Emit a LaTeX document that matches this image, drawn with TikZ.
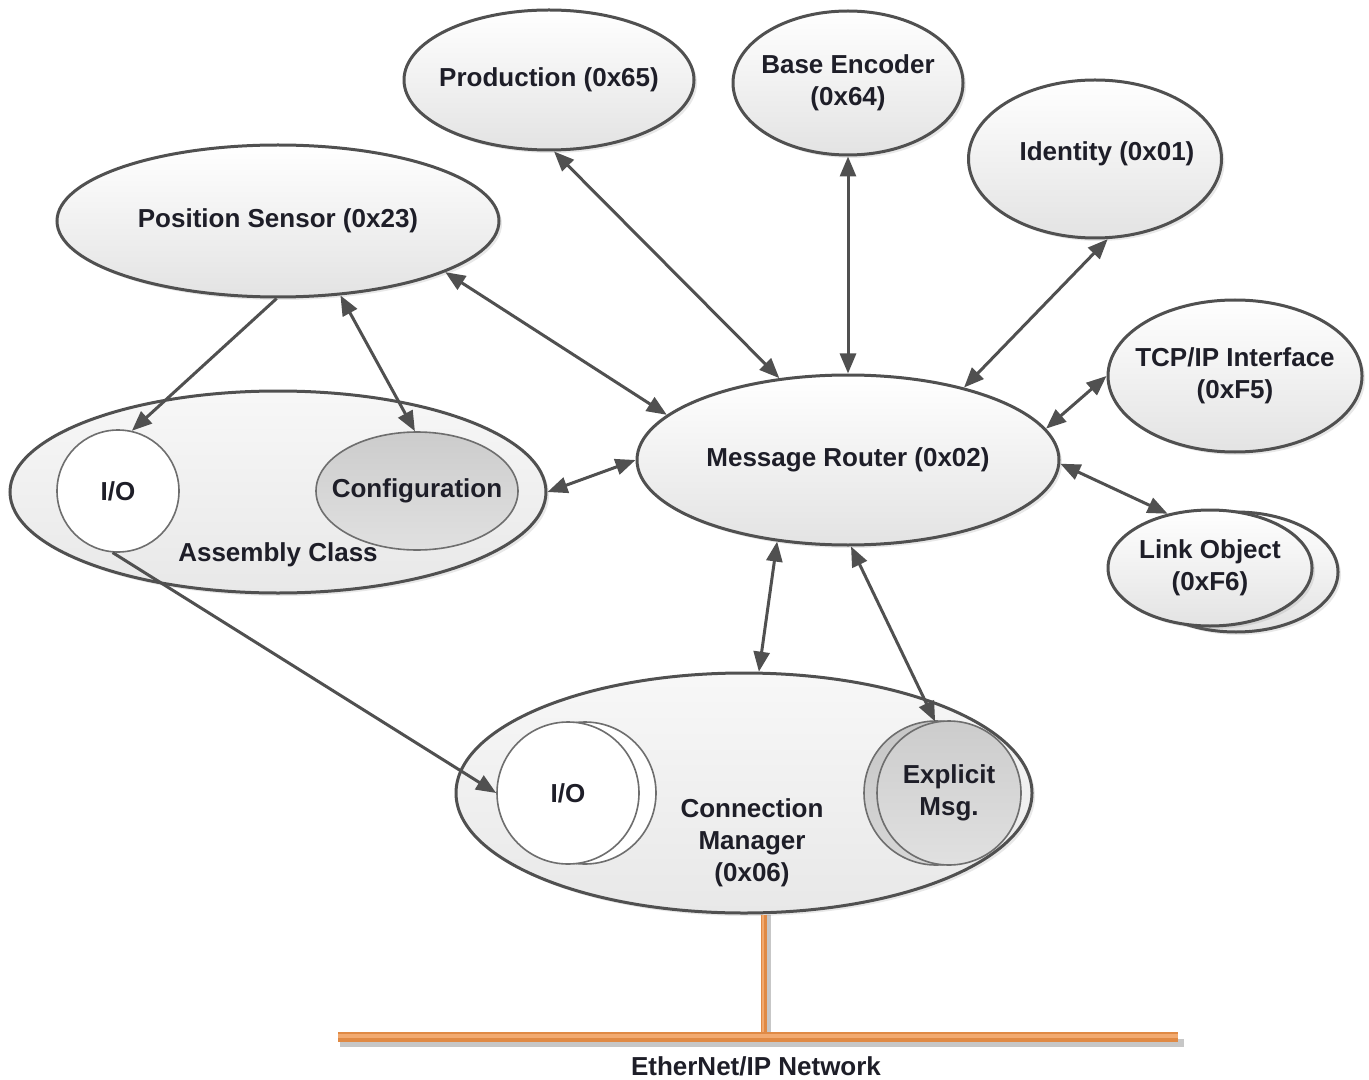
\documentclass[tikz,border=0pt]{standalone}
\usepackage{fontspec}
\setmainfont{Liberation Sans}
\usetikzlibrary{shapes.geometric,arrows.meta,shadows}
\definecolor{edge}{HTML}{505050}
\definecolor{txt}{HTML}{1E1E28}
\definecolor{net}{HTML}{E08A45}
\definecolor{netlight}{HTML}{F2AA70}
\definecolor{thin}{HTML}{6E6E6E}
\begin{document}
\begin{tikzpicture}[x=0.5pt,y=-0.5pt,
  lab/.style={font=\bfseries\fontsize{13}{16}\selectfont, text=txt, align=center},
  obj/.style={ellipse, draw=edge, line width=1.5pt, top color=white, bottom color=black!11,
    inner sep=0pt, drop shadow={shadow xshift=1.5pt,shadow yshift=-1.5pt,opacity=0.18}},
  big/.style={ellipse, draw=edge, line width=1.5pt, top color=black!3, bottom color=black!9,
    inner sep=0pt, drop shadow={shadow xshift=1.5pt,shadow yshift=-1.5pt,opacity=0.18}},
  whitec/.style={circle, draw=thin, line width=0.8pt, fill=white, inner sep=0pt},
  grayc/.style={ellipse, draw=thin, line width=0.8pt, top color=black!20, bottom color=black!12, inner sep=0pt},
  txtc/.style={label={[lab]center:#1}},
  conn/.style={draw=edge, line width=1.5pt},
  bi/.style={conn, {Triangle[length=10pt,width=8pt]}-{Triangle[length=10pt,width=8pt]}},
  one/.style={conn, -{Triangle[length=10pt,width=8pt]}}
]
\useasboundingbox (0,0) rectangle (1369,1080);

% network
\coordinate (nL) at (338,1037);
\coordinate (nR) at (1178,1037);
\coordinate (nJ) at (764,1037);

% top objects
\node[obj, minimum width=145pt, minimum height=70pt, txtc={Production (0x65)}] (prod) at (549,80) {};
\node[obj, minimum width=115pt, minimum height=72pt, txtc={Base Encoder\\(0x64)}] (benc) at (848,83) {};
\node[obj, minimum width=126.5pt, minimum height=79pt] (ident) at (1095,159) {};
\node[lab] (identtxt) at (1107,154) {Identity (0x01)};
\node[obj, minimum width=221pt, minimum height=76pt, txtc={Position Sensor (0x23)}] (ps) at (278,221) {};
\node[obj, minimum width=127pt, minimum height=76pt, txtc={TCP/IP Interface\\(0xF5)}] (tcp) at (1235,376) {};
\node[obj, minimum width=211pt, minimum height=85pt, txtc={Message Router (0x02)}] (mr) at (848,460) {};
\node[obj, minimum width=102pt, minimum height=60pt] (linkb) at (1236,572) {};
\node[obj, minimum width=102pt, minimum height=58pt, txtc={Link Object\\(0xF6)}] (link) at (1210,568) {};

% assembly class
\node[big, minimum width=268pt, minimum height=101pt] (asm) at (278,492) {};
\node[whitec, minimum size=61pt, txtc={I/O}] (aio) at (118,491) {};
\node[grayc, minimum width=101pt, minimum height=59pt, txtc={Configuration}] (cfg) at (417,491) {};
\node[lab] (asmtxt) at (278,555) {Assembly Class};

% connection manager
\node[big, minimum width=288pt, minimum height=120pt] (cm) at (744,793) {};
\node[whitec, minimum size=71pt] (cmiob) at (585,793) {};
\node[whitec, minimum size=71pt, txtc={I/O}] (cmio) at (568,793) {};
\node[grayc, circle, minimum size=72pt, top color=black!22, bottom color=black!16] (explb) at (936,793) {};
\node[grayc, circle, minimum size=72pt, txtc={Explicit\\Msg.}] (expl) at (949,793) {};
\node[lab] (cmtxt) at (752,843) {Connection\\Manager\\(0x06)};

% network bars
\draw[line width=4pt, black, opacity=0.22] ([xshift=1pt,yshift=-3pt]nL) -- ([xshift=3pt,yshift=-3pt]nR);
\draw[line width=2.5pt, black, opacity=0.22] ([xshift=2pt]nJ |- cm.south) -- ([xshift=2pt]nJ);
\draw[line width=3pt, net] (nJ |- cm.south) -- (nJ);
\draw[line width=1pt, netlight] ([xshift=-0.3pt]nJ |- cm.south) -- ([xshift=-0.3pt]nJ);
\draw[line width=5pt, net] (nL) -- (nR);
\draw[line width=2pt, netlight] ([yshift=0.5pt]nL) -- ([yshift=0.5pt]nR);
\node[lab] (nettxt) at (756,1066) {EtherNet/IP Network};

% connectors
\draw[bi] (prod.-86) -- (mr.130);
\draw[bi] (benc.-90) -- (mr.90);
\draw[bi] (ident.-81) -- (mr.32);
\draw[bi] (ps.-17) -- (mr.166);
\draw[one] (ps.-91) -- (aio.77);
\draw[bi] (ps.-50) -- (cfg.92);
\draw[bi] (asm.0) -- (mr.180);
\draw[bi] (mr.9) -- (tcp.180);
\draw[bi] (mr.-1) -- (link.128);
\draw[bi] (mr.-131) -- (cm.83);
\draw[bi] (mr.-88) -- (expl.101);
\draw[one] (aio.-95) -- (cmio.180);
\end{tikzpicture}
\end{document}
